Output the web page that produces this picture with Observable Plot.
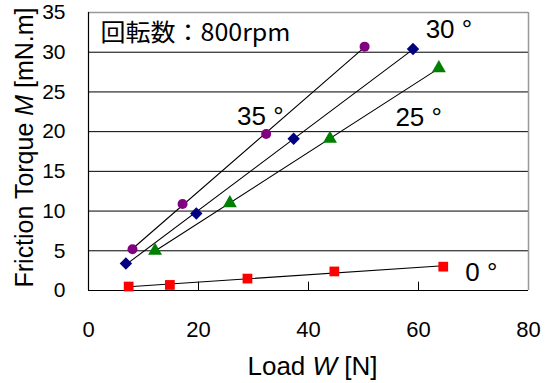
<!DOCTYPE html>
<html><head><meta charset="utf-8">
<script src="https://cdn.jsdelivr.net/npm/d3@7"></script>
<script src="https://cdn.jsdelivr.net/npm/@observablehq/plot@0.6"></script>
<style>body{margin:0;background:#fff}</style>
</head><body><div id="chart"></div>
<script>
// Data
const load0 = [7.3, 14.8, 28.9, 44.7, 64.5];
const torque0 = [0.5, 0.7, 1.5, 2.4, 3.0];
const load25 = [12.1, 25.7, 43.9, 63.7];
const torque25 = [5.0, 11.0, 19.1, 28.0];
const load30 = [6.8, 19.6, 37.3, 59.0];
const torque30 = [3.4, 9.7, 19.1, 30.4];
const load35 = [8.0, 17.1, 32.3, 50.2];
const torque35 = [5.2, 10.9, 19.7, 30.7];

const xTicks = [0, 20, 40, 60, 80];
const yTicks = [0, 5, 10, 15, 20, 25, 30, 35];
const gridValues = [5, 10, 15, 20, 25, 30];
const innerTicks = [20, 40, 60];

const angleLabels = ["35 °", "30 °", "25 °", "0 °"];
const angleLabelX = [27.0, 61.3, 55.8, 68.5];
const angleLabelY = [21.9, 32.8, 21.75, 2.3];

const titleText = "回転数：800rpm";
const xLabelText = "Load W [N]";
const yLabelText = "Friction Torque M [mN.m]";
const italicWord = {x: "W", y: "M"};

const toRows = (xs, ys) => xs.map((x, i) => ({x, y: ys[i]}));
const s0 = toRows(load0, torque0);
const s25 = toRows(load25, torque25);
const s30 = toRows(load30, torque30);
const s35 = toRows(load35, torque35);
const labels = angleLabels.map((t, i) => ({t, x: angleLabelX[i], y: angleLabelY[i]}));

const reg = (data) => Plot.linearRegressionY(data, {x: "x", y: "y", stroke: "black", strokeWidth: 1.1, ci: 0});

const chart = Plot.plot({
  width: 552,
  height: 383,
  marginLeft: 88,
  marginRight: 24,
  marginTop: 12,
  marginBottom: 93,
  style: {fontFamily: "'Liberation Sans', Arial, sans-serif", background: "#fff"},
  x: {domain: [0, 80]},
  y: {domain: [0, 35]},
  marks: [
    Plot.ruleY(gridValues, {stroke: "black", strokeWidth: 1}),
    Plot.ruleY([35], {stroke: "#999", strokeWidth: 1.5}),
    Plot.ruleX([80], {stroke: "#999", strokeWidth: 1.5}),
    Plot.ruleX(innerTicks, {y1: 0, y2: 1.05, stroke: "black"}),
    Plot.ruleX([0], {stroke: "black", strokeWidth: 1.2}),
    Plot.ruleY([0], {stroke: "black", strokeWidth: 1.2}),
    Plot.axisX({ticks: xTicks, tickSize: 0, tickPadding: 31, fontSize: 22, label: null}),
    Plot.axisY({ticks: yTicks, tickSize: 0, tickPadding: 23, fontSize: 21, label: null}),
    reg(s0), reg(s25), reg(s30), reg(s35),
    Plot.dot(s35, {x: "x", y: "y", symbol: "circle", r: 5, fill: "#800080", stroke: "none"}),
    Plot.dot(s30, {x: "x", y: "y", symbol: "diamond2", r: 5.6, fill: "#000080", stroke: "none"}),
    Plot.dot(s25, {x: "x", y: "y", symbol: "triangle", r: 5.2, fill: "#008000", stroke: "none"}),
    Plot.dot(s0, {x: "x", y: "y", symbol: "square", r: 5.5, fill: "#ff0000", stroke: "none"}),
    Plot.text(labels, {x: "x", y: "y", text: "t", textAnchor: "start", fontSize: 26, fill: "black"}),
    Plot.text([titleText], {frameAnchor: "top-left", dx: 12, dy: 11, lineAnchor: "top", textAnchor: "start",
      fontSize: 24, fill: "black", fontFamily: "'Noto Sans CJK JP', sans-serif", className: "ttl"}),
    Plot.text([xLabelText], {frameAnchor: "bottom", dx: 4, dy: 76, lineAnchor: "middle", textAnchor: "middle",
      fontSize: 26, fill: "black", className: "xlab"}),
    Plot.text([yLabelText], {frameAnchor: "left", dx: -56, dy: -4, rotate: -90, lineAnchor: "bottom", textAnchor: "middle",
      fontSize: 26, fill: "black", className: "ylab"})
  ]
});

const svg = d3.select(chart);
svg.selectAll(".ttl text").attr("textLength", 190).attr("lengthAdjust", "spacingAndGlyphs");

// italicize the variable symbol inside the axis titles
function italicize(sel, word) {
  sel.each(function () {
    const full = this.textContent;
    const idx = full.indexOf(" " + word + " ");
    if (idx < 0) return;
    const parts = [full.slice(0, idx + 1), word, full.slice(idx + 1 + word.length)];
    const node = d3.select(this);
    node.text(null).style("white-space", "pre");
    parts.forEach((p, i) => {
      const ts = node.append("tspan").text(p);
      if (i === 1) ts.attr("font-style", "italic");
    });
  });
}
italicize(svg.selectAll(".xlab text"), italicWord.x);
italicize(svg.selectAll(".ylab text"), italicWord.y);
svg.selectAll(".ylab text").attr("textLength", 280).attr("lengthAdjust", "spacingAndGlyphs");

document.getElementById("chart").append(chart);
</script>
</body></html>
